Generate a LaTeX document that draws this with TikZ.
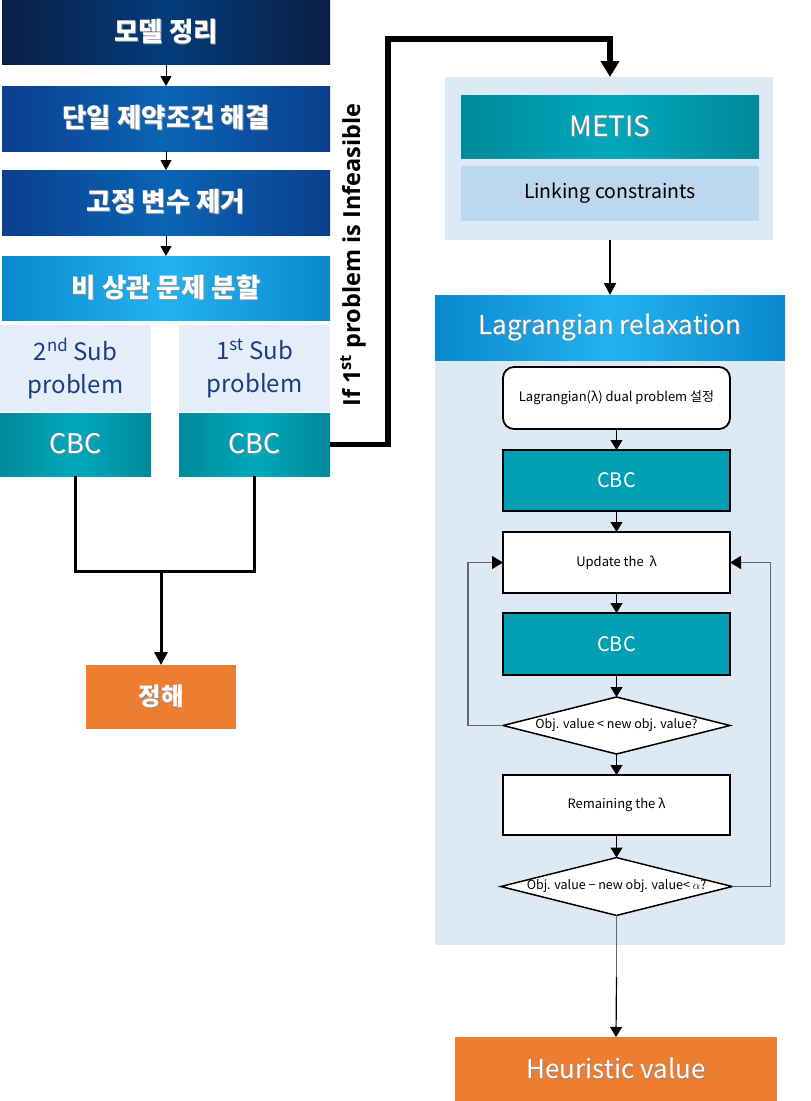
\documentclass[tikz,border=0pt]{standalone}
\usepackage{fontspec}
\setmainfont{Noto Sans CJK KR}
\newfontfamily\ifont{Open Sans}
\usetikzlibrary{arrows.meta,shapes.geometric}
\definecolor{navyE}{HTML}{0B1F45}
\definecolor{navyC}{HTML}{033C7C}
\definecolor{blueE}{HTML}{0A3F8C}
\definecolor{blueC}{HTML}{0A64B6}
\definecolor{skyE}{HTML}{0A88CE}
\definecolor{skyC}{HTML}{22B2F2}
\definecolor{tealE}{HTML}{00899A}
\definecolor{tealC}{HTML}{00A8BC}
\definecolor{tealF}{HTML}{009FB3}
\definecolor{paleB}{HTML}{E3EEF8}
\definecolor{contB}{HTML}{DDE9F5}
\definecolor{linkB}{HTML}{BDD7EE}
\definecolor{orng}{HTML}{ED7D31}
\definecolor{subT}{HTML}{1B3D86}
\definecolor{loopG}{HTML}{5F6670}
\newcommand{\shd}[1]{\leavevmode\rlap{\kern0.9pt\raisebox{-0.9pt}{\textcolor{black!45}{#1}}}#1}
\tikzset{
  every node/.style={inner sep=0pt, outer sep=0pt},
  grad/.style 2 args={left color=#1, right color=#1, middle color=#2},
  hd/.style={rectangle, align=center, text=white, font=\bfseries\fontsize{26.5}{30}\selectfont},
  subbox/.style={rectangle, align=center, fill=paleB, text=subT, minimum width=151pt, minimum height=87pt, font=\fontsize{24}{33}\selectfont},
  cbcbox/.style={rectangle, align=center, text=white, grad={tealE}{tealC}, minimum width=151pt, minimum height=63pt, font=\fontsize{27}{30}\selectfont},
  orbox/.style={rectangle, align=center, fill=orng, text=white},
  flow/.style={rectangle, draw=black, line width=1.8pt, align=center, minimum width=227pt, font=\fontsize{13}{15}\selectfont},
  dia/.style={diamond, draw=black, line width=1.5pt, fill=white, aspect=4, minimum width=227pt, minimum height=57pt, font=\fontsize{12.5}{14}\selectfont},
  sarr/.style={draw=black, line width=1pt, -{Triangle[width=11pt,length=10pt]}},
  farr/.style={draw=black, line width=1.2pt, -{Triangle[width=12pt,length=10pt]}},
  marr/.style={draw=black, line width=3pt, -{Triangle[width=13pt,length=13pt]}},
  mline/.style={draw=black, line width=3pt},
  garr/.style={draw=loopG, line width=1.3pt, -{Triangle[width=13pt,length=11pt,black]}},
}
\begin{document}
\begin{tikzpicture}[x=1pt,y=-1pt]
\useasboundingbox (0,0) rectangle (811,1101);
% left column
\node[hd, grad={navyE}{navyC}, minimum width=328pt, minimum height=64pt] (m1) at (166,32) {\shd{모델 정리}};
\node[hd, grad={blueE}{blueC}, minimum width=328pt, minimum height=65pt] (m2) at (166,118.5) {\shd{단일 제약조건 해결}};
\node[hd, grad={blueE}{blueC}, minimum width=328pt, minimum height=65pt] (m3) at (166,202.5) {\shd{고정 변수 제거}};
\node[hd, grad={skyE}{skyC}, minimum width=328pt, minimum height=64pt] (m4) at (166,288) {\shd{비 상관 문제 분할}};
\node[subbox] (sub2) at (75.5,368.5) {2\textsuperscript{nd} Sub\\problem};
\node[subbox] (sub1) at (254.5,368.5) {1\textsuperscript{st} Sub\\problem};
\node[cbcbox] (cbc2) at (75.5,444.5) {\shd{CBC}};
\node[cbcbox] (cbc1) at (254.5,444.5) {\shd{CBC}};
\node[orbox, minimum width=150pt, minimum height=64pt, font=\bfseries\fontsize{24.5}{28}\selectfont] (jh) at (161,697) {\shd{정해}};
\draw[sarr] (m1.south) -- (m2.north);
\draw[sarr] (m2.south) -- (m3.north);
\draw[sarr] (m3.south) -- (m4.north);
\coordinate (j) at (161,571);
\draw[mline] (cbc2.south) |- (cbc1.south |- j) -- (cbc1.south);
\draw[marr] (j) -- (jh.north);
% right column
\node[rectangle, fill=contB, minimum width=328pt, minimum height=163pt] (metisbg) at (609,158.5) {};
\node[hd, grad={tealE}{tealC}, minimum width=298pt, minimum height=63pt, font=\fontsize{28}{30}\selectfont] (metis) at (610,126.5) {\shd{METIS}};
\node[rectangle, fill=linkB, minimum width=298pt, minimum height=55pt, font=\fontsize{19.5}{24}\selectfont] (link) at (610,193.5) {Linking constraints};
\node[rectangle, fill=contB, minimum width=350pt, minimum height=585pt] (lagbg) at (610,652.5) {};
\node[hd, grad={skyE}{skyC}, minimum width=350pt, minimum height=65pt, font=\fontsize{26}{30}\selectfont] (lag) at (610,327.5) {\shd{Lagrangian relaxation}};
\node[flow, fill=white, rounded corners=11pt, minimum height=62pt] (dual) at (616.5,398) {Lagrangian(λ) dual problem 설정};
\node[flow, fill=tealF, text=white, minimum height=61pt, font=\fontsize{20}{24}\selectfont] (cbcA) at (616.5,480.5) {CBC};
\node[flow, fill=white, minimum height=61pt] (upd) at (616.5,562.5) {Update the \ λ};
\node[flow, fill=tealF, text=white, minimum height=62pt, font=\fontsize{20}{24}\selectfont] (cbcB) at (616.5,644) {CBC};
\node[dia] (d1) at (616.5,725.5) {Obj. value < new obj. value?};
\node[flow, fill=white, minimum height=60pt] (rem) at (616.5,805) {Remaining the λ};
\node[dia] (d2) at (616.5,886.5) {Obj. value − new obj. value< $\alpha$?};
\node[orbox, minimum width=322pt, minimum height=64pt, font=\fontsize{26}{30}\selectfont] (heur) at (616,1069) {\shd{Heuristic value}};
\draw[farr] (dual) -- (cbcA);
\draw[farr] (cbcA) -- (upd);
\draw[farr] (upd) -- (cbcB);
\draw[farr] (cbcB) -- (d1);
\draw[farr] (d1) -- (rem);
\draw[farr] (rem) -- (d2);
\draw[garr] (d1.west) -- ++(-35,0) |- (upd.west);
\draw[garr] (d2.east) -- ++(38,0) |- (upd.east);
\coordinate (mid) at (616.5,977);
\draw[draw=loopG, line width=1.3pt] (d2.south) -- (mid);
\draw[farr] (mid) -- (heur.north);
\draw[draw=black, line width=2.5pt, -{Triangle[width=12pt,length=12pt]}] (metisbg.south -| lag.north) -- (lag.north);
% infeasible connector
\coordinate (t1) at (388,39);
\draw[draw=black, line width=5.5pt, -{Triangle[width=18pt,length=16pt]}] (cbc1.east) -| (t1) -| (metisbg.north -| 610,0);
\node[rotate=90, font=\ifont\bfseries\fontsize{23.5}{26}\selectfont] (iflbl) at (353,255) {If 1\textsuperscript{st} problem is Infeasible};
\end{tikzpicture}
\end{document}
